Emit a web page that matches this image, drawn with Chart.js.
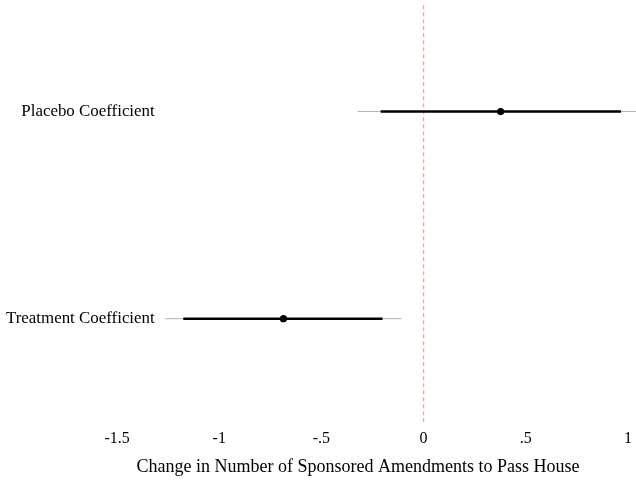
<!DOCTYPE html>
<html>
<head>
<meta charset="utf-8">
<script src="https://cdn.jsdelivr.net/npm/chart.js@4.4.0/dist/chart.umd.min.js"></script>
<style>
  html, body { margin: 0; padding: 0; background: #ffffff; }
  #wrap { width: 636px; height: 481px; }
</style>
</head>
<body>
<div id="wrap"><canvas id="c" width="636" height="481"></canvas></div>
<script>
// Coefficient estimates with inner (thick) and outer (thin) confidence intervals
const categories = ['Placebo Coefficient', 'Treatment Coefficient'];
const rowPositions = [2, 1];
const estimates = [0.377, -0.686];
const innerLow = [-0.21, -1.176];
const innerHigh = [0.966, -0.201];
const outerLow = [-0.323, -1.265];
const outerHigh = [1.077, -0.108];
const xTicks = [-1.5, -1, -0.5, 0, 0.5, 1];
const xTickLabels = ['-1.5', '-1', '-.5', '0', '.5', '1'];
const referenceValue = 0;
const xRange = [-1.662, 1.02];
const yRange = [0.5, 2.519];

const FONT = "'Liberation Serif', 'Times New Roman', serif";

const datasets = [];

// vertical reference line at zero
datasets.push({
  type: 'line',
  data: [{ x: referenceValue, y: yRange[0] }, { x: referenceValue, y: yRange[1] }],
  borderColor: 'rgba(236, 150, 136, 0.85)',
  borderWidth: 1.3,
  borderDash: [4, 3],
  pointRadius: 0,
  order: 10
});

categories.forEach((name, i) => {
  const y = rowPositions[i];
  datasets.push({
    type: 'line',
    label: name + ' outer',
    data: [{ x: outerLow[i], y }, { x: outerHigh[i], y }],
    borderColor: '#b4b4b4',
    borderWidth: 1,
    pointRadius: 0,
    clip: false,
    order: 5
  });
  datasets.push({
    type: 'line',
    label: name + ' inner',
    data: [{ x: innerLow[i], y }, { x: innerHigh[i], y }],
    borderColor: '#000000',
    borderWidth: 2.6,
    pointRadius: 0,
    order: 4
  });
  datasets.push({
    type: 'scatter',
    label: name,
    data: [{ x: estimates[i], y }],
    backgroundColor: '#000000',
    borderColor: '#000000',
    pointRadius: 3.6,
    borderWidth: 0,
    order: 1
  });
});

new Chart(document.getElementById('c'), {
  type: 'line',
  data: { datasets },
  options: {
    responsive: false,
    animation: false,
    layout: { padding: 0 },
    plugins: { legend: { display: false }, tooltip: { enabled: false } },
    scales: {
      x: {
        type: 'linear',
        min: xRange[0],
        max: xRange[1],
        grid: { display: false, drawTicks: true, tickLength: 6.4 },
        border: { display: false },
        afterBuildTicks: s => { s.ticks = xTicks.map(v => ({ value: v })); },
        ticks: {
          autoSkip: false,
          maxRotation: 0,
          padding: 0,
          color: '#000',
          font: { family: FONT, size: 16 },
          callback: v => xTickLabels[xTicks.indexOf(v)]
        },
        title: {
          display: true,
          text: 'Change in Number of Sponsored Amendments to Pass House',
          color: '#000',
          font: { family: FONT, size: 18 },
          padding: { top: 9, bottom: 2.5 }
        }
      },
      y: {
        type: 'linear',
        min: yRange[0],
        max: yRange[1],
        grid: { display: false, drawTicks: false },
        border: { display: false },
        afterBuildTicks: s => { s.ticks = rowPositions.map(v => ({ value: v })); },
        afterFit: s => { s.width = 84; },
        ticks: {
          autoSkip: false,
          mirror: true,
          crossAlign: 'far',
          padding: -78,
          color: '#000',
          font: { family: FONT, size: 16.9 },
          callback: v => categories[rowPositions.indexOf(v)]
        }
      }
    }
  }
});
</script>
</body>
</html>
